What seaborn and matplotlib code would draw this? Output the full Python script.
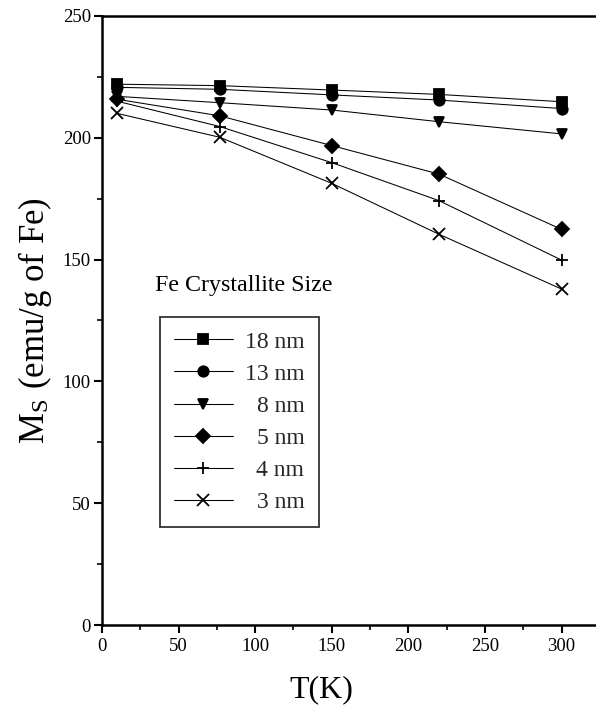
import numpy as np
import pandas as pd
import matplotlib
matplotlib.use("Agg")
import matplotlib.pyplot as plt
import seaborn as sns
from matplotlib.ticker import MultipleLocator
from matplotlib.lines import Line2D

# ---- data ----
temps = [10, 77, 150, 220, 300]
sizes = ["18 nm", "13 nm", "8 nm", "5 nm", "4 nm", "3 nm"]
ms_18 = [222, 221.4, 219.6, 217.8, 214.8]
ms_13 = [220.7, 219.9, 217.6, 215.5, 212]
ms_8 = [217, 214.4, 211.4, 206.6, 201.6]
ms_5 = [215.8, 209, 196.8, 185.1, 162.4]
ms_4 = [215, 204.6, 189.8, 174.2, 149.8]
ms_3 = [210, 200.2, 181.3, 160.4, 137.9]
series = [ms_18, ms_13, ms_8, ms_5, ms_4, ms_3]
markers = ["s", "o", "v", "D", "+", "x"]
x_ticks = [0, 50, 100, 150, 200, 250, 300]
y_ticks = [0, 50, 100, 150, 200, 250]

df = pd.DataFrame({
    "T": np.tile(temps, len(sizes)),
    "Ms": np.concatenate(series),
    "size": np.repeat(sizes, len(temps)),
})

sns.set_theme(style="ticks")
plt.rcParams["font.family"] = ["Liberation Serif", "DejaVu Serif"]
plt.rcParams["mathtext.fontset"] = "stix"

fig = plt.figure(figsize=(5.96, 7.10), dpi=100)
ax = fig.add_axes([0.171, 0.1197, 0.829, 0.8578])


def msize(m):
    return 9 if m in ("+", "x") else 7.5


for name, m in zip(sizes, markers):
    sub = df[df["size"] == name]
    sns.lineplot(data=sub, x="T", y="Ms", color="black", marker=m,
                 linewidth=0.75, markersize=msize(m), markeredgewidth=1.3,
                 markeredgecolor="black", markerfacecolor="black", ax=ax,
                 legend=False)

ax.set_xlim(0, 322.5)
ax.set_ylim(0, 250)
ax.set_xticks(x_ticks)
ax.set_yticks(y_ticks)
ax.xaxis.set_minor_locator(MultipleLocator(25))
ax.yaxis.set_minor_locator(MultipleLocator(25))
ax.tick_params(which="major", direction="out", length=6, width=1.5,
               labelsize=13.5, color="black", labelcolor="black")
ax.tick_params(axis="y", which="major", pad=2)
ax.tick_params(axis="x", which="major", pad=3)
ax.tick_params(which="minor", direction="out", length=3.5, width=1.2, color="black")
for s in ["left", "bottom", "top"]:
    ax.spines[s].set_linewidth(1.8)
    ax.spines[s].set_color("black")
ax.spines["right"].set_visible(False)

ax.set_xlabel("T(K)", fontsize=23, color="black", va="center")
ax.xaxis.set_label_coords(0.445, -0.107)
ax.set_ylabel(r"M$_\mathregular{S}$ (emu/g of Fe)", fontsize=25, color="black", va="center")
ax.yaxis.set_label_coords(-0.136, 0.5)

handles = [Line2D([], [], color="black", linewidth=0.75, marker=m,
                  markersize=msize(m), markeredgewidth=1.3,
                  markerfacecolor="black", markeredgecolor="black")
           for m in markers]
leg = ax.legend(handles, sizes, loc="upper left", bbox_to_anchor=(0.117, 0.506),
                borderaxespad=0, frameon=True, fancybox=False, edgecolor="black",
                fontsize=17, handlelength=2.5, labelspacing=0.45, handletextpad=0.5,
                borderpad=0.6)
leg.get_frame().set_linewidth(1.3)
fig.canvas.draw()
renderer = fig.canvas.get_renderer()
texts = leg.get_texts()
widths = [t.get_window_extent(renderer).width for t in texts]
w = max(widths)
for t, wi in zip(texts, widths):
    t.set_position((w - wi, 0))

ax.text(0.287, 0.558, "Fe Crystallite Size", transform=ax.transAxes,
        ha="center", va="center", fontsize=17.3, color="black")

fig.savefig("out.png", dpi=100)
